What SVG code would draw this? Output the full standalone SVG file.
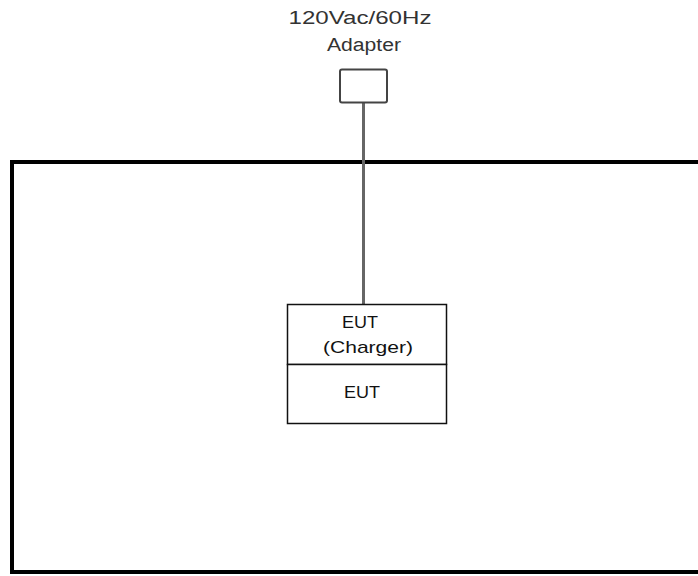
<svg xmlns="http://www.w3.org/2000/svg" width="698" height="576" viewBox="0 0 698 576">
<style>
  .lbl { font-family: "Liberation Sans", Arial, sans-serif; font-size: 18px; fill: #333; text-anchor: middle; }
  .eut { font-family: "Liberation Sans", Arial, sans-serif; font-size: 17px; fill: #111; text-anchor: middle; }
  .box { fill: #fff; stroke: #111; stroke-width: 1.5; }
</style>
<rect width="698" height="576" fill="#fff"/>
<g id="enclosure">
  <rect x="12" y="162" width="700" height="410" fill="none" stroke="#000" stroke-width="4"/>
</g>
<g id="connectors">
  <line x1="363.5" y1="103" x2="363.5" y2="304" stroke="#666" stroke-width="3"/>
</g>
<g id="adapter">
  <text class="lbl" x="360" y="24" textLength="143" lengthAdjust="spacingAndGlyphs">120Vac/60Hz</text>
  <text class="lbl" x="364" y="51" textLength="74" lengthAdjust="spacingAndGlyphs">Adapter</text>
  <rect x="340" y="69.5" width="47" height="33" rx="2" fill="#fff" stroke="#444" stroke-width="2"/>
</g>
<g id="eut-charger">
  <rect class="box" x="287.5" y="304.5" width="159" height="60"/>
  <text class="eut" x="360" y="328" textLength="36" lengthAdjust="spacingAndGlyphs">EUT</text>
  <text class="eut" x="368" y="353" textLength="90" lengthAdjust="spacingAndGlyphs">(Charger)</text>
</g>
<g id="eut">
  <rect class="box" x="287.5" y="364.5" width="159" height="59"/>
  <text class="eut" x="362" y="398" textLength="36" lengthAdjust="spacingAndGlyphs">EUT</text>
</g>
</svg>
